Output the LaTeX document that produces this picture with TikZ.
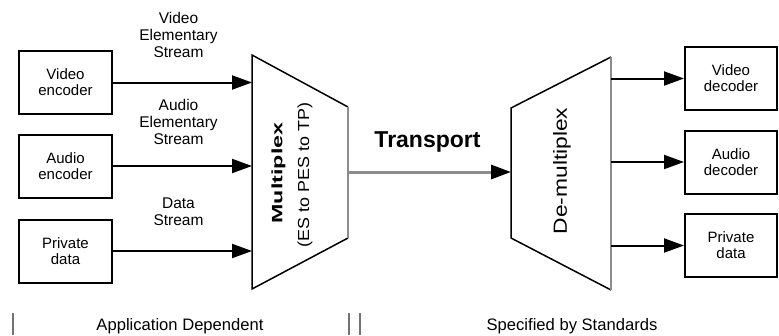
\documentclass[tikz,border=0pt]{standalone}
\usepackage{fontspec}
\setmainfont{Liberation Sans}
\usetikzlibrary{arrows.meta}
\begin{document}
\begin{tikzpicture}[x=1pt,y=-1pt,
  block/.style={draw, line width=2pt, minimum width=93pt, minimum height=63pt,
    inner sep=0pt, align=center, font=\fontsize{15}{16}\selectfont},
  streamtext/.style={align=center, inner sep=0pt, font=\fontsize{15.5}{17}\selectfont},
  footer/.style={inner sep=0pt, anchor=base, font=\fontsize{16.6}{18}\selectfont},
  flow/.style={line width=2pt, -{Triangle[length=20pt,width=14pt]}},
  muxedge/.style={line width=1.5pt, line join=miter},
  greyedge/.style={line width=2.5pt, draw=black!45},
  divider/.style={line width=1.5pt, draw=black!55}
]
\useasboundingbox (0,0) rectangle (779,335);

% encoders on the left
\node[block] (venc) at (65.5,82.5) {Video\\encoder};
\node[block] (aenc) at (65.5,166)  {Audio\\encoder};
\node[block] (penc) at (65.5,251)  {Private\\data};

% decoders on the right
\node[block, minimum width=92pt] (vdec) at (731,78.5) {Video\\decoder};
\node[block, minimum width=92pt] (adec) at (731,162)  {Audio\\decoder};
\node[block, minimum width=92pt] (pdec) at (731,245.5) {Private\\data};

% multiplexer trapezoid
\coordinate (mux-tl) at (252,55);
\coordinate (mux-tr) at (348,107);
\coordinate (mux-br) at (348,238);
\coordinate (mux-bl) at (252,289);
\draw[muxedge] (mux-tr) -- (mux-tl) -- (mux-bl) -- (mux-br);
\draw[greyedge] (mux-tr) -- (mux-br);
\node[rotate=90, inner sep=0pt, font=\fontsize{15}{15}\bfseries] (muxname) at (278.5,173)
  {\scalebox{1.55}[1]{Multiplex}};
\node[rotate=90, inner sep=0pt, font=\fontsize{16}{16}\selectfont] (muxsub) at (305,175)
  {\scalebox{1.12}[1]{(ES to PES to TP)}};

% demultiplexer trapezoid
\coordinate (demux-tl) at (511,108);
\coordinate (demux-tr) at (611,57);
\coordinate (demux-br) at (611,290);
\coordinate (demux-bl) at (511,238);
\draw[muxedge] (demux-tr) -- (demux-tl) -- (demux-bl) -- (demux-br);
\draw[greyedge] (demux-tr) -- (demux-br);
\node[rotate=90, inner sep=0pt, font=\fontsize{19}{19}\selectfont] (demuxname) at (562,171)
  {\scalebox{1.2}[1]{De-multiplex}};

% elementary streams into the multiplexer
\draw[flow] (venc) -- (venc -| mux-tl);
\draw[flow] (aenc) -- (aenc -| mux-tl);
\draw[flow] (penc) -- (penc -| mux-tl);
\node[streamtext] (vlabel) at (178.5,35)  {Video\\Elementary\\Stream};
\node[streamtext] (alabel) at (178.5,122) {Audio\\Elementary\\Stream};
\node[streamtext] (dlabel) at (178.5,211.5) {Data\\Stream};

% transport stream between the two
\coordinate (mux-out) at (348,172);
\coordinate (demux-in) at (511,172);
\draw[line width=3pt, draw=black!45,
  -{Triangle[length=20pt,width=14pt,color=black,fill=black]}] (mux-out) -- (demux-in);
\node[inner sep=0pt, anchor=base, font=\fontsize{23}{23}\bfseries] (transport) at (427.5,147) {Transport};

% outputs of the demultiplexer
\draw[flow] (vdec -| demux-tr) -- (vdec);
\draw[flow] (adec -| demux-tr) -- (adec);
\draw[flow] (pdec -| demux-tr) -- (pdec);

% domain markers along the bottom
\draw[divider] (13,313) -- (13,335);
\draw[divider] (349,313) -- (349,335);
\draw[divider] (360,313) -- (360,335);
\node[footer] (appdep) at (180,330) {Application Dependent};
\node[footer] (stddef) at (572,330) {Specified by Standards};
\end{tikzpicture}
\end{document}
